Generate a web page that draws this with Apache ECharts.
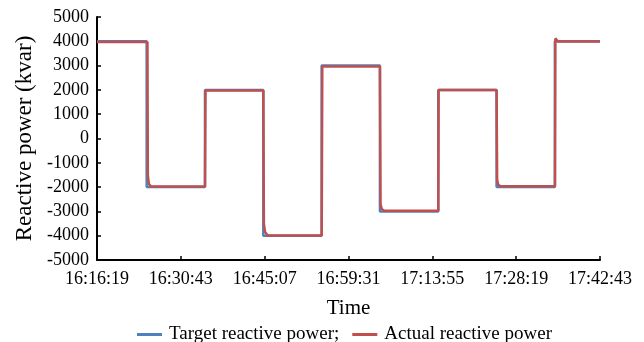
<!DOCTYPE html>
<html>
<head>
<meta charset="utf-8">
<script src="https://cdn.jsdelivr.net/npm/echarts@6/dist/echarts.min.js"></script>
<style>
  html, body { margin: 0; padding: 0; background: #fff; }
  #chart { width: 644px; height: 342px; }
</style>
</head>
<body>
<div id="chart"></div>
<script>
  // time axis is seconds after the start time
  var startClock = '16:16:19';
  var axisEnd = 5184;
  var tickStep = 864;

  // target reactive power: switch times (s) and levels (kvar)
  var targetSwitch = [512, 1113, 1714, 2315, 2916, 3517, 4118, 4719];
  var targetLevels = [4000, -2000, 2000, -4000, 3000, -3000, 2000, -2000, 4000];

  // actual reactive power
  var actualTimes = [0, 520, 524, 535, 560, 1113, 1118, 1714, 1720, 1732, 1760, 2316, 2322, 2916, 2922, 2935, 2960, 3517, 3521, 4118, 4124, 4135, 4160, 4720, 4724, 4750, 5184];
  var actualValues = [3970, 3970, -1500, -1880, -1980, -1980, 1980, 1980, -3500, -3850, -3990, -3990, 2960, 2960, -2700, -2900, -2970, -2970, 2000, 2000, -1700, -1900, -1970, -1970, 4120, 3990, 3990];

  var blue = '#4f81bd';
  var red = '#c0504d';
  var font = '"Liberation Serif", "Times New Roman", serif';

  function toSec(s) {
    var p = s.split(':');
    return (+p[0]) * 3600 + (+p[1]) * 60 + (+p[2]);
  }
  function pad(n) { return (n < 10 ? '0' : '') + n; }
  var start = toSec(startClock);
  function clock(v) {
    var t = start + v;
    return Math.floor(t / 3600) + ':' + pad(Math.floor(t / 60) % 60) + ':' + pad(t % 60);
  }

  var targetData = [[0, targetLevels[0]]];
  targetSwitch.forEach(function(t, i) {
    targetData.push([t, targetLevels[i]]);
    targetData.push([t, targetLevels[i + 1]]);
  });
  targetData.push([axisEnd, targetLevels[targetLevels.length - 1]]);

  var actualData = actualTimes.map(function(t, i) { return [t, actualValues[i]]; });

  var chart = echarts.init(document.getElementById('chart'), null, { renderer: 'canvas' });
  chart.setOption({
    animation: false,
    textStyle: { fontFamily: font },
    grid: { left: 97, right: 44, top: 17, bottom: 82, outerBoundsMode: 'none' },
    legend: {
      left: 132,
      top: 320,
      itemGap: 13,
      itemWidth: 25,
      itemHeight: 3,
      textStyle: { fontFamily: font, fontSize: 19, color: '#000', padding: [0, 0, 0, 2] },
      data: [
        { name: 'Target reactive power;', icon: 'rect', itemStyle: { color: blue } },
        { name: 'Actual reactive power', icon: 'rect', itemStyle: { color: red } }
      ]
    },
    xAxis: {
      type: 'value',
      min: 0,
      max: axisEnd,
      interval: tickStep,
      name: 'Time',
      nameLocation: 'middle',
      nameGap: 38,
      nameTextStyle: { fontFamily: font, fontSize: 21, color: '#000' },
      axisLine: { onZero: false, lineStyle: { color: '#000', width: 2 } },
      axisTick: { inside: true, length: 4, lineStyle: { color: '#000', width: 1.5 } },
      splitLine: { show: false },
      axisLabel: { color: '#000', fontSize: 18, fontFamily: font, margin: 10, formatter: clock }
    },
    yAxis: {
      type: 'value',
      min: -5000,
      max: 5000,
      interval: 1000,
      name: 'Reactive power (kvar)',
      nameLocation: 'middle',
      nameGap: 61,
      nameTextStyle: { fontFamily: font, fontSize: 23, color: '#000' },
      axisLine: { show: true, onZero: false, lineStyle: { color: '#000', width: 2 } },
      axisTick: { show: true, inside: true, length: 4, lineStyle: { color: '#000', width: 1.5 } },
      splitLine: { show: false },
      axisLabel: { color: '#000', fontSize: 18, fontFamily: font, margin: 8, formatter: function(v) { return String(v); } }
    },
    series: [
      {
        type: 'line',
        name: 'Target reactive power;',
        data: targetData,
        showSymbol: false,
        lineStyle: { color: blue, width: 2.5 },
        itemStyle: { color: blue }
      },
      {
        type: 'line',
        name: 'Actual reactive power',
        data: actualData,
        showSymbol: false,
        lineStyle: { color: red, width: 2.5 },
        itemStyle: { color: red }
      }
    ]
  });
</script>
</body>
</html>
